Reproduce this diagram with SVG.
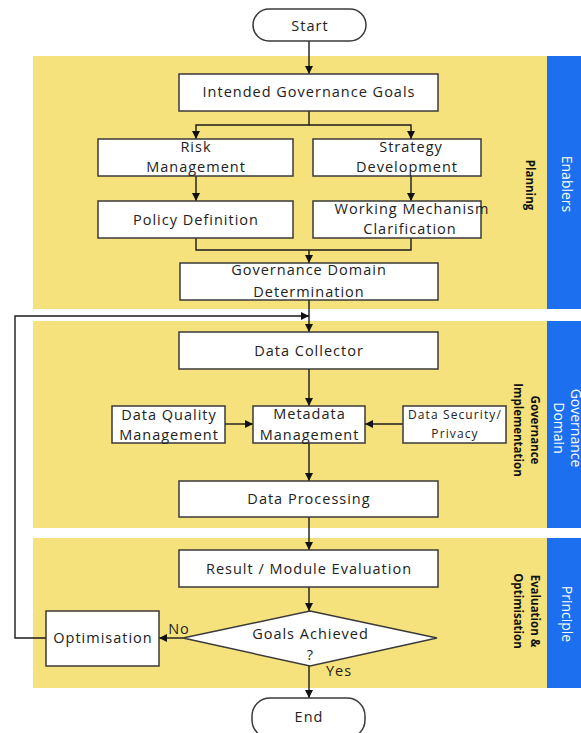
<svg xmlns="http://www.w3.org/2000/svg" width="581" height="733" viewBox="0 0 581 733">
  <style>
    .band { fill: #F6E27C; }
    .side { fill: #1C6FEE; }
    .box { fill: #ffffff; stroke: #3a3a3a; stroke-width: 1.5; }
    .txt { font-family: "Open Sans", "Noto Sans", sans-serif; font-size: 14.5px; letter-spacing: 1px; fill: #222; text-anchor: middle; }
    .small { font-size: 12px; letter-spacing: 1.1px; }
    .lane { font-family: "Open Sans", "Noto Sans", sans-serif; font-size: 11.5px; font-weight: bold; fill: #111; text-anchor: middle; dominant-baseline: central; }
    .side-txt { font-family: "Open Sans", "Noto Sans", sans-serif; font-size: 14px; fill: #ffffff; text-anchor: middle; dominant-baseline: central; }
    .line { fill: none; stroke: #1a1a1a; stroke-width: 1.4; }
  </style>
  <defs>
    <marker id="arrow" viewBox="0 0 10 10" refX="10" refY="5" markerWidth="8" markerHeight="8" markerUnits="userSpaceOnUse" orient="auto">
      <path d="M0,0 L10,5 L0,10 z" fill="#111"/>
    </marker>
  </defs>

  <rect width="581" height="733" fill="#ffffff"/>

  <!-- swimlane bands -->
  <g id="lanes">
    <rect class="band" x="33" y="56" width="514" height="253"/>
    <rect class="band" x="33" y="321" width="514" height="207"/>
    <rect class="band" x="33" y="538" width="514" height="150"/>
    <rect class="side" x="547" y="56" width="34" height="253"/>
    <rect class="side" x="547" y="321" width="34" height="207"/>
    <rect class="side" x="547" y="538" width="34" height="150"/>
    <text class="lane" transform="translate(530,185) rotate(90)">Planning</text>
    <text class="lane" transform="translate(535,430) rotate(90)">Governance</text>
    <text class="lane" transform="translate(518,430) rotate(90)">Implementation</text>
    <text class="lane" transform="translate(535,611) rotate(90)">Evaluation &amp;</text>
    <text class="lane" transform="translate(518,611) rotate(90)">Optimisation</text>
    <text class="side-txt" transform="translate(567,184) rotate(90)">Enablers</text>
    <text class="side-txt" transform="translate(576,428) rotate(90)">Governance</text>
    <text class="side-txt" transform="translate(559,428) rotate(90)">Domain</text>
    <text class="side-txt" transform="translate(567,614) rotate(90)">Principle</text>
  </g>

  <!-- connectors -->
  <g id="connectors">
    <path class="line" d="M309,41 V74" marker-end="url(#arrow)"/>
    <path class="line" d="M309,111 V125 H196 V139" marker-end="url(#arrow)"/>
    <path class="line" d="M309,125 H411 V139" marker-end="url(#arrow)"/>
    <path class="line" d="M196,176 V201" marker-end="url(#arrow)"/>
    <path class="line" d="M411,176 V201" marker-end="url(#arrow)"/>
    <path class="line" d="M196,238 V250 H411 V238"/>
    <path class="line" d="M309,250 V263" marker-end="url(#arrow)"/>
    <path class="line" d="M309,300 V332" marker-end="url(#arrow)"/>
    <path class="line" d="M309,369 V406" marker-end="url(#arrow)"/>
    <path class="line" d="M225,424 H253" marker-end="url(#arrow)"/>
    <path class="line" d="M403,424 H365" marker-end="url(#arrow)"/>
    <path class="line" d="M309,443 V481" marker-end="url(#arrow)"/>
    <path class="line" d="M309,517 V550" marker-end="url(#arrow)"/>
    <path class="line" d="M309,587 V611" marker-end="url(#arrow)"/>
    <path class="line" d="M183,638 H159" marker-end="url(#arrow)"/>
    <path class="line" d="M309,666 V698" marker-end="url(#arrow)"/>
    <path class="line" d="M46,638 H15 V316 H309" marker-end="url(#arrow)"/>
    <text class="txt" x="179" y="634">No</text>
    <text class="txt" x="339" y="676">Yes</text>
  </g>

  <g id="start">
    <rect class="box" x="253" y="9" width="113" height="32" rx="16"/>
    <text class="txt" x="310" y="31">Start</text>
  </g>
  <g id="intended-goals">
    <rect class="box" x="179" y="74" width="259" height="37"/>
    <text class="txt" x="309" y="97">Intended Governance Goals</text>
  </g>
  <g id="risk-management">
    <rect class="box" x="98" y="139" width="195" height="37"/>
    <text class="txt" x="196" y="152">Risk</text>
    <text class="txt" x="196" y="172">Management</text>
  </g>
  <g id="strategy-development">
    <rect class="box" x="313" y="139" width="168" height="37"/>
    <text class="txt" x="411" y="152">Strategy</text>
    <text class="txt" x="407" y="172">Development</text>
  </g>
  <g id="policy-definition">
    <rect class="box" x="98" y="201" width="195" height="37"/>
    <text class="txt" x="196" y="225">Policy Definition</text>
  </g>
  <g id="working-mechanism">
    <rect class="box" x="313" y="201" width="168" height="37"/>
    <text class="txt" x="412" y="214">Working Mechanism</text>
    <text class="txt" x="410" y="234">Clarification</text>
  </g>
  <g id="domain-determination">
    <rect class="box" x="180" y="263" width="258" height="37"/>
    <text class="txt" x="309" y="275">Governance Domain</text>
    <text class="txt" x="309" y="297">Determination</text>
  </g>
  <g id="data-collector">
    <rect class="box" x="179" y="332" width="259" height="37"/>
    <text class="txt" x="309" y="356">Data Collector</text>
  </g>
  <g id="data-quality">
    <rect class="box" x="112" y="406" width="113" height="37"/>
    <text class="txt" x="169" y="420">Data Quality</text>
    <text class="txt" x="169" y="440">Management</text>
  </g>
  <g id="metadata-management">
    <rect class="box" x="253" y="406" width="112" height="37"/>
    <text class="txt" x="309.5" y="419">Metadata</text>
    <text class="txt" x="309.5" y="440">Management</text>
  </g>
  <g id="data-security">
    <rect class="box" x="403" y="406" width="103" height="37"/>
    <text class="txt small" x="455" y="419">Data Security/</text>
    <text class="txt small" x="455" y="438">Privacy</text>
  </g>
  <g id="data-processing">
    <rect class="box" x="179" y="481" width="259" height="36"/>
    <text class="txt" x="309" y="504">Data Processing</text>
  </g>
  <g id="module-evaluation">
    <rect class="box" x="179" y="550" width="259" height="37"/>
    <text class="txt" x="309" y="574">Result / Module Evaluation</text>
  </g>
  <g id="goals-achieved">
    <polygon class="box" points="310,611 437,638 310,666 183,638"/>
    <text class="txt" x="310.5" y="639">Goals Achieved</text>
    <text class="txt" x="310.5" y="660">?</text>
  </g>
  <g id="optimisation">
    <rect class="box" x="46" y="611" width="113" height="55"/>
    <text class="txt" x="103" y="643">Optimisation</text>
  </g>
  <g id="end">
    <rect class="box" x="252" y="698" width="113" height="40" rx="18"/>
    <text class="txt" x="309" y="722">End</text>
  </g>
</svg>
